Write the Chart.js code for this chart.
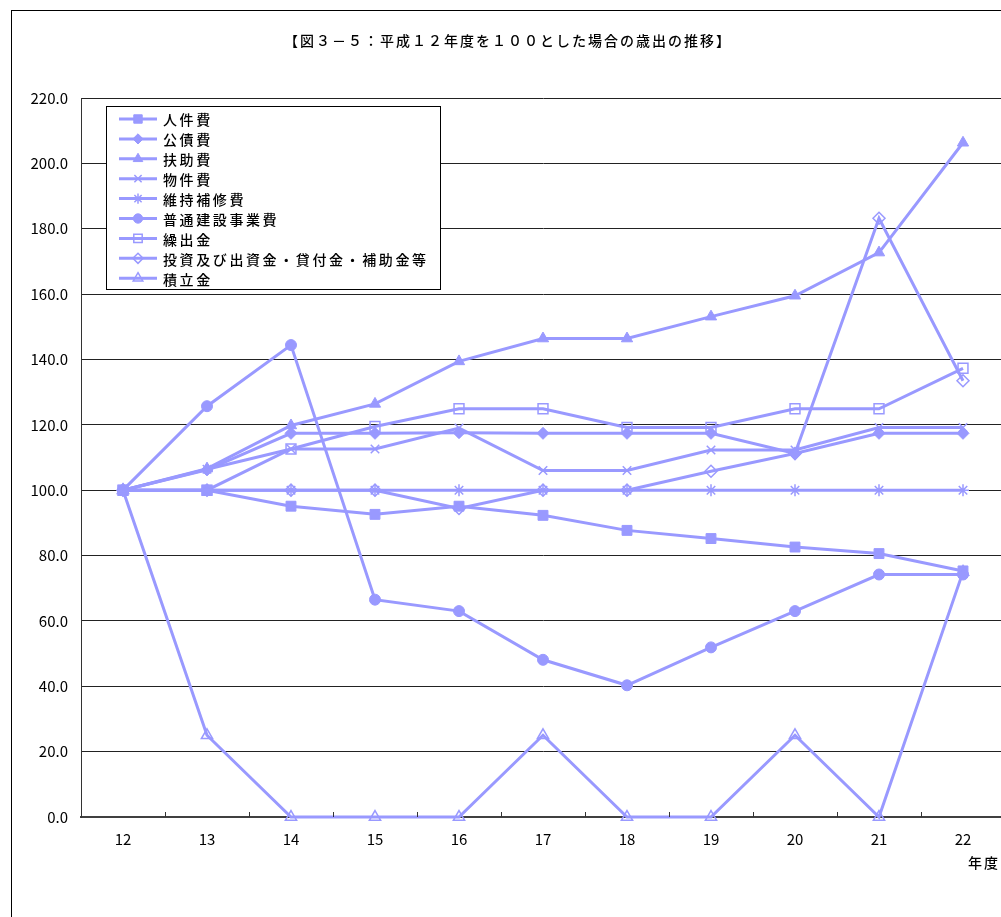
<!DOCTYPE html>
<html lang="ja">
<head>
<meta charset="utf-8">
<title>平成１２年度を１００とした場合の歳出の推移</title>
<script src="https://cdn.jsdelivr.net/npm/chart.js@4.4.1/dist/chart.umd.min.js"></script>
<style>
  html, body { margin: 0; padding: 0; background: #fff; overflow: hidden; width: 1001px; height: 917px; }
  #frame { position: absolute; left: 11px; top: 10px; width: 1002px; height: 920px; border: 1px solid #000; background: #fff; }
  canvas { display: block; }
</style>
</head>
<body>
<div id="frame"><canvas id="chart" width="1002" height="920"></canvas></div>
<script>
// 年度（平成）
const years = ['12', '13', '14', '15', '16', '17', '18', '19', '20', '21', '22'];

// 平成12年度を100とした指数
const jinkenhi      = [100, 100, 95.1, 92.6, 95.1, 92.3, 87.7, 85.2, 82.6, 80.6, 75.3];
const kousaihi      = [100, 106.2, 117.4, 117.4, 117.6, 117.4, 117.4, 117.4, 111.2, 117.4, 117.4];
const fujohi        = [100, 106.6, 119.8, 126.4, 139.4, 146.4, 146.4, 153.1, 159.5, 172.7, 206.3];
const bukkenhi      = [100, 106.4, 112.6, 112.6, 119.0, 106.0, 106.0, 112.3, 112.3, 119.2, 119.2];
const ijihoshuhi    = [100, 100, 100, 100, 100, 100, 100, 100, 100, 100, 100];
const futsukensetsu = [100, 125.7, 144.4, 66.5, 63.0, 48.1, 40.3, 51.9, 63.0, 74.2, 74.2];
const kuridashikin  = [100, 100, 112.6, 119.5, 124.9, 124.9, 119.2, 119.2, 124.9, 124.9, 137.3];
const toushi        = [100, 100, 100, 100, 94.4, 100, 100, 105.8, 111.2, 183.2, 133.5];
const tsumitatekin  = [100, 25, 0, 0, 0, 25, 0, 0, 25, 0, 75];

const seriesNames = ['人件費', '公債費', '扶助費', '物件費', '維持補修費', '普通建設事業費', '繰出金',
                     '投資及び出資金・貸付金・補助金等', '積立金'];
const seriesValues = [jinkenhi, kousaihi, fujohi, bukkenhi, ijihoshuhi, futsukensetsu, kuridashikin,
                      toushi, tsumitatekin];

// y軸目盛
const yMin = 0, yMax = 220, yStep = 20;

const titleText = '【図３－５：平成１２年度を１００とした場合の歳出の推移】';
const xCaption = '年度';

// マーカーの形と塗り
const LINE = '#9999ff';
const NONE = 'rgba(0,0,0,0)';
const markerStyles = [
  { style: 'rect',     radius: 7,   fill: LINE, bw: 1 },
  { style: 'rectRot',  radius: 6,   fill: LINE, bw: 1 },
  { style: 'triangle', radius: 6.5, fill: LINE, bw: 1 },
  { style: 'crossRot', radius: 6,   fill: NONE, bw: 1.5 },
  { style: 'star',     radius: 6,   fill: NONE, bw: 1.5 },
  { style: 'circle',   radius: 5.5, fill: LINE, bw: 1 },
  { style: 'rect',     radius: 7,   fill: NONE, bw: 1.5 },
  { style: 'rectRot',  radius: 6,   fill: NONE, bw: 1.5 },
  { style: 'triangle', radius: 6.5, fill: NONE, bw: 1.5 }
];

const FONT = '"Noto Sans CJK JP", "Noto Sans", sans-serif';
Chart.defaults.font.family = FONT;
Chart.defaults.color = '#000';

const datasets = seriesNames.map((name, i) => ({
  label: name,
  data: seriesValues[i],
  borderColor: LINE,
  borderWidth: 3,
  tension: 0,
  pointStyle: markerStyles[i].style,
  pointRadius: markerStyles[i].radius,
  pointBackgroundColor: markerStyles[i].fill,
  pointBorderColor: LINE,
  pointBorderWidth: markerStyles[i].bw,
  clip: false,
  order: seriesNames.length - i
}));

// 表題・凡例・年度の見出し・内向きの目盛線
const decor = {
  id: 'decor',
  afterDraw(chart) {
    const ctx = chart.ctx;
    const area = chart.chartArea;
    const xs = chart.scales.x;
    ctx.save();

    ctx.strokeStyle = '#333';
    ctx.lineWidth = 1;
    ctx.beginPath();
    for (let i = 1; i <= years.length; i++) {
      const px = Math.round((xs.getPixelForValue(i - 1) + xs.getPixelForValue(i)) / 2) + 0.5;
      ctx.moveTo(px, area.bottom - 5);
      ctx.lineTo(px, area.bottom);
    }
    ctx.stroke();

    ctx.fillStyle = '#000';
    ctx.font = '500 14px ' + FONT;
    ctx.letterSpacing = '2px';
    ctx.textBaseline = 'middle';
    ctx.textAlign = 'center';
    ctx.fillText(titleText, 496, 30);

    ctx.textAlign = 'right';
    ctx.fillText(xCaption, 988, 852);

    // 凡例
    const lx = 94.5, ly = 95.5, lw = 334, lh = 183;
    ctx.fillStyle = '#fff';
    ctx.fillRect(lx, ly, lw, lh);
    ctx.strokeStyle = '#000';
    ctx.lineWidth = 1;
    ctx.strokeRect(lx, ly, lw, lh);

    ctx.textAlign = 'left';
    ctx.letterSpacing = '2.6px';
    seriesNames.forEach((name, i) => {
      const cy = 108 + i * 19.9;
      ctx.strokeStyle = LINE;
      ctx.lineWidth = 3;
      ctx.beginPath();
      ctx.moveTo(107, cy);
      ctx.lineTo(145, cy);
      ctx.stroke();
      const m = markerStyles[i];
      ctx.fillStyle = m.fill;
      ctx.strokeStyle = LINE;
      ctx.lineWidth = m.bw;
      Chart.helpers.drawPoint(ctx, {
        pointStyle: m.style, radius: m.radius * 0.85, borderWidth: m.bw, rotation: 0
      }, 126, cy);
      ctx.fillStyle = '#000';
      ctx.fillText(name, 151, cy + 1);
    });

    ctx.restore();
  }
};

new Chart(document.getElementById('chart'), {
  type: 'line',
  data: { labels: years, datasets },
  options: {
    responsive: false,
    animation: false,
    devicePixelRatio: 1,
    layout: { padding: { top: 87, right: 9, bottom: 0, left: 0 } },
    plugins: { legend: { display: false }, title: { display: false }, tooltip: { enabled: false } },
    scales: {
      x: {
        type: 'category',
        offset: true,
        grid: { display: false, offset: true, drawTicks: false },
        border: { display: true, color: '#404040', width: 2 },
        ticks: { padding: 13, font: { size: 15 }, color: '#000', maxRotation: 0 },
        afterFit(scale) { scale.height = 114; }
      },
      y: {
        min: yMin,
        max: yMax,
        grid: { color: '#222', lineWidth: 1, drawTicks: false },
        border: { display: true, color: '#333', width: 1 },
        ticks: {
          stepSize: yStep,
          padding: 13,
          font: { size: 15 },
          color: '#000',
          callback: (v) => Number(v).toFixed(1)
        },
        afterFit(scale) { scale.width = 69; }
      }
    }
  },
  plugins: [decor]
});
</script>
</body>
</html>
